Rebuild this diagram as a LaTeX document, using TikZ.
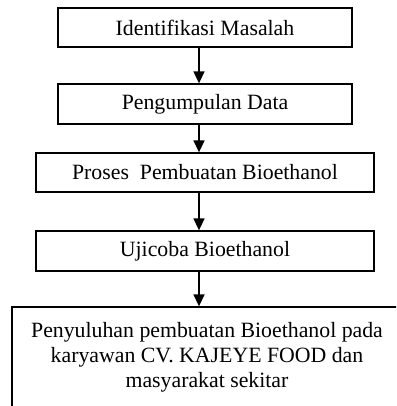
\documentclass[tikz,border=0pt]{standalone}
\usepackage{fontspec}
\setmainfont{Liberation Serif}
\usetikzlibrary{arrows.meta,positioning}
\tikzset{
    stepbox/.style={
    rectangle,draw=black,line width=1.3pt,align=center,inner sep=0pt,
    font=\fontsize{21.8}{25}\selectfont
    },
    flow/.style={
    -{Triangle[width=11pt,length=12pt]},line width=1.6pt
    },
}

\begin{document}
\begin{tikzpicture}[x=1pt,y=1pt]
   \useasboundingbox (0,0) rectangle (396,-406);
   \clip (0,0) rectangle (396,-406);
   \coordinate (spine) at (199,0);
   \node[stepbox,minimum width=294pt,minimum height=39pt] (identifikasi) at (205,-27.5) {Identifikasi Masalah};
   \node[stepbox,minimum width=294pt,minimum height=40pt] (pengumpulan) at (205,-104) {Pengumpulan Data};
   \node[stepbox,minimum width=338pt,minimum height=39pt] (proses) at (205,-172.5) {Proses\ \ Pembuatan Bioethanol};
   \node[stepbox,minimum width=338pt,minimum height=40pt] (ujicoba) at (205,-251) {Ujicoba Bioethanol};
   \node[stepbox,minimum width=390pt,minimum height=100pt] (penyuluhan) at (207,-357)
     {Penyuluhan pembuatan Bioethanol pada\\karyawan CV. KAJEYE FOOD dan\\masyarakat sekitar};

  \draw[flow] (identifikasi.south -| spine) -- (pengumpulan.north -| spine);
  \draw[flow] (pengumpulan.south -| spine) -- (proses.north -| spine);
  \draw[flow] (proses.south -| spine) -- (ujicoba.north -| spine);
  \draw[flow] (ujicoba.south -| spine) -- (penyuluhan.north -| spine);
\end{tikzpicture}
\end{document}
